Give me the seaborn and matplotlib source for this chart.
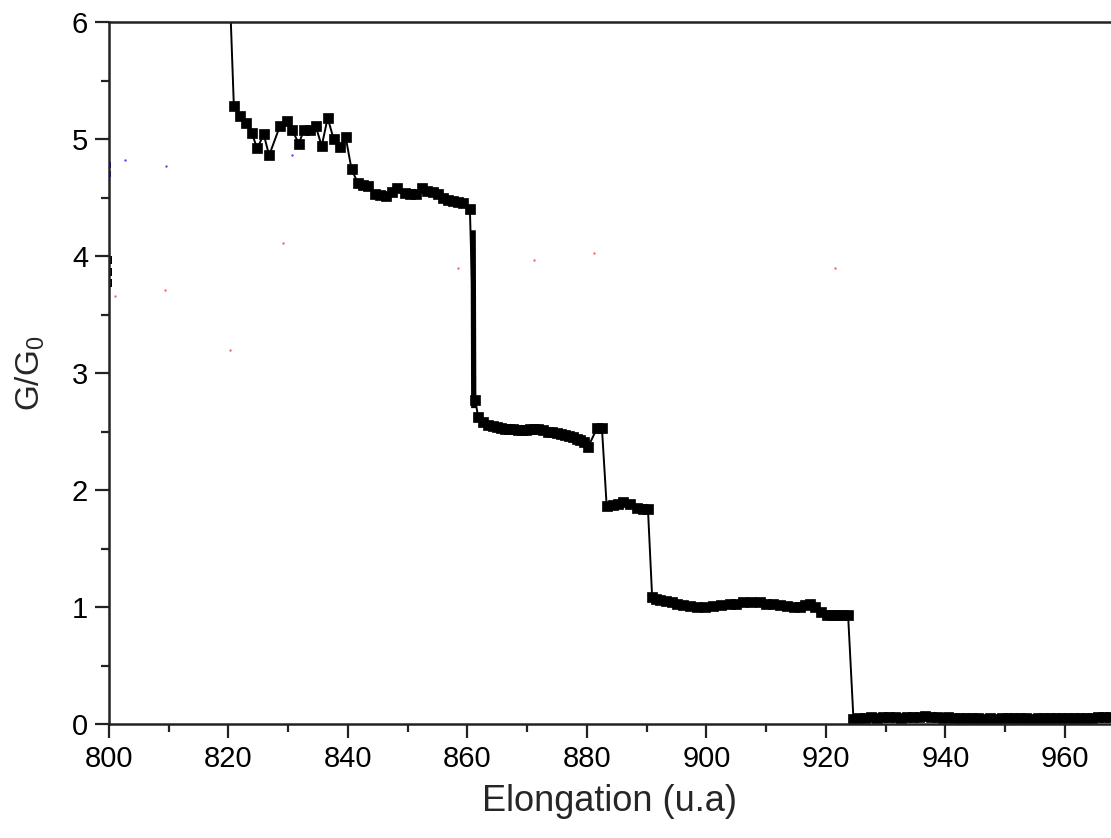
import numpy as np
import pandas as pd
import seaborn as sns
import matplotlib
matplotlib.use("Agg")
import matplotlib.pyplot as plt
from matplotlib.ticker import MultipleLocator

# plateau ~5
x1 = [819.9, 820.9, 821.9, 822.9, 823.9, 824.8, 825.9, 826.8, 828.6, 829.8, 830.6,
      831.8, 832.6, 833.6, 834.6, 835.6, 836.6, 837.6, 838.6, 839.6, 840.6]
g1 = [6.70, 5.28, 5.20, 5.14, 5.05, 4.92, 5.04, 4.86, 5.11, 5.15, 5.08,
      4.96, 5.08, 5.08, 5.11, 4.94, 5.18, 5.00, 4.93, 5.02, 4.74]
# plateau ~4.5
x2 = [841.7, 842.5, 843.3, 844.5, 845.4, 846.4, 847.3, 848.2, 849.5, 850.4, 851.4,
      852.4, 853.3, 854.2, 855.1, 855.9, 856.8, 857.6, 858.4, 859.2, 860.4]
g2 = [4.62, 4.61, 4.60, 4.53, 4.52, 4.51, 4.55, 4.58, 4.54, 4.53, 4.53,
      4.58, 4.56, 4.55, 4.53, 4.50, 4.48, 4.47, 4.46, 4.45, 4.40]
# plateau ~2.5
x3 = [861.3, 861.8, 862.6, 863.4, 864.2, 864.9, 865.6, 866.3, 867.0, 867.6, 868.4,
      869.1, 869.8, 870.5, 871.2, 871.8, 872.7, 873.5, 874.2, 875.0, 875.7, 876.3,
      877.0, 877.7, 878.3, 878.8, 879.5, 880.2, 881.7, 882.5]
g3 = [2.77, 2.62, 2.58, 2.56, 2.55, 2.54, 2.53, 2.52, 2.52, 2.52, 2.51,
      2.51, 2.51, 2.52, 2.52, 2.52, 2.51, 2.50, 2.50, 2.49, 2.48, 2.47,
      2.46, 2.45, 2.44, 2.43, 2.41, 2.37, 2.53, 2.53]
# plateau ~1.9
x4 = [883.3, 884.4, 885.2, 886.0, 887.2, 888.4, 889.4, 890.2]
g4 = [1.86, 1.87, 1.88, 1.90, 1.88, 1.85, 1.84, 1.84]
# plateau ~1
x5 = [890.9, 891.6, 892.2, 893.2, 894.2, 895.1, 896.1, 897.2, 898.4, 899.7, 901.1,
      902.5, 903.9, 905.0, 906.1, 907.5, 909.0, 910.0, 911.1, 912.3, 913.5, 914.6,
      915.7, 916.5, 917.3, 918.2, 919.2, 920.2, 921.0, 921.8, 922.8, 923.7]
g5 = [1.09, 1.07, 1.06, 1.05, 1.04, 1.03, 1.02, 1.01, 1.00, 1.00, 1.01,
      1.02, 1.03, 1.03, 1.04, 1.04, 1.04, 1.03, 1.03, 1.02, 1.01, 1.00,
      1.00, 1.02, 1.03, 1.00, 0.96, 0.93, 0.93, 0.93, 0.93, 0.93]
# after rupture
x6 = [924.6, 925.5, 926.5, 927.5, 928.5, 929.5, 930.5, 931.5, 932.5, 933.5, 934.5,
      935.5, 936.5, 937.5, 938.5, 939.5, 940.5, 941.5, 942.5, 943.5, 944.5, 945.5,
      946.5, 947.5, 948.5, 949.5, 950.5, 951.5, 952.5, 953.5, 954.5, 955.5, 956.5,
      957.5, 958.5, 959.5, 960.5, 961.5, 962.5, 963.5, 964.5, 965.5, 966.5, 967.5, 968.5]
g6 = [0.04, 0.05, 0.05, 0.06, 0.05, 0.06, 0.06, 0.06, 0.05, 0.06, 0.06,
      0.06, 0.07, 0.06, 0.06, 0.05, 0.06, 0.05, 0.05, 0.05, 0.05, 0.05,
      0.04, 0.05, 0.04, 0.05, 0.05, 0.05, 0.05, 0.05, 0.04, 0.05, 0.05,
      0.05, 0.05, 0.05, 0.05, 0.05, 0.05, 0.05, 0.05, 0.06, 0.06, 0.06, 0.06]

# steep jump near 861
drop_x = [860.95, 861.05]
drop_g = [4.22, 2.70]

# stray points of other traces
red_x = [801.0, 809.4, 820.3, 829.1, 858.4, 871.1, 881.2, 921.5]
red_g = [3.66, 3.71, 3.20, 4.11, 3.90, 3.97, 4.03, 3.90]
blue_x = [802.7, 809.5, 830.6]
blue_g = [4.82, 4.77, 4.86]
edge_x = [799.9, 799.9, 799.9]
edge_g = [3.97, 3.86, 3.77]
edge_blue_x = [799.9, 799.9]
edge_blue_g = [4.78, 4.70]

df = pd.DataFrame({"x": x1 + x2 + x3 + x4 + x5 + x6,
                   "g": g1 + g2 + g3 + g4 + g5 + g6})

sns.set_style("ticks")
plt.rcParams["font.family"] = ["Liberation Sans", "DejaVu Sans"]

fig = plt.figure(figsize=(11.11, 8.38), dpi=100)
ax = fig.add_axes([0.0981, 0.136, 0.9019, 0.8377])

sns.lineplot(data=df, x="x", y="g", ax=ax, sort=False, estimator=None,
             color="black", linewidth=1.4, marker="s", markersize=7.5,
             markeredgecolor="black", markeredgewidth=0.5)
ax.plot(drop_x, drop_g, color="black", linewidth=3.8, solid_capstyle="butt")
sns.scatterplot(x=red_x, y=red_g, ax=ax, color="red", s=3, linewidth=0, alpha=0.6)
sns.scatterplot(x=blue_x, y=blue_g, ax=ax, color="blue", s=3, linewidth=0, alpha=0.7)
sns.scatterplot(x=edge_x, y=edge_g, ax=ax, color="black", marker="s", s=40, linewidth=0)
sns.scatterplot(x=edge_blue_x, y=edge_blue_g, ax=ax, color="blue", marker="s", s=25, linewidth=0)

ax.set_xlim(800, 967.7)
ax.set_ylim(0, 6)
ax.xaxis.set_major_locator(MultipleLocator(20))
ax.xaxis.set_minor_locator(MultipleLocator(10))
ax.yaxis.set_major_locator(MultipleLocator(1))
ax.yaxis.set_minor_locator(MultipleLocator(0.5))
ax.tick_params(which="major", length=10, width=1.6, labelsize=21, direction="out",
               colors="#222222", labelcolor="black", pad=5)
ax.tick_params(which="minor", length=5.5, width=1.6, direction="out", colors="#222222")
ax.tick_params(top=False, right=False, which="both")
for side in ["left", "bottom", "top"]:
    ax.spines[side].set_linewidth(1.8)
    ax.spines[side].set_color("#222222")
ax.spines["right"].set_visible(False)

ax.set_xlabel("Elongation (u.a)", fontsize=26, labelpad=8)
ax.set_ylabel(r"G/G$_\mathregular{0}$", fontsize=24, labelpad=18)

fig.savefig("out.png", dpi=100)
